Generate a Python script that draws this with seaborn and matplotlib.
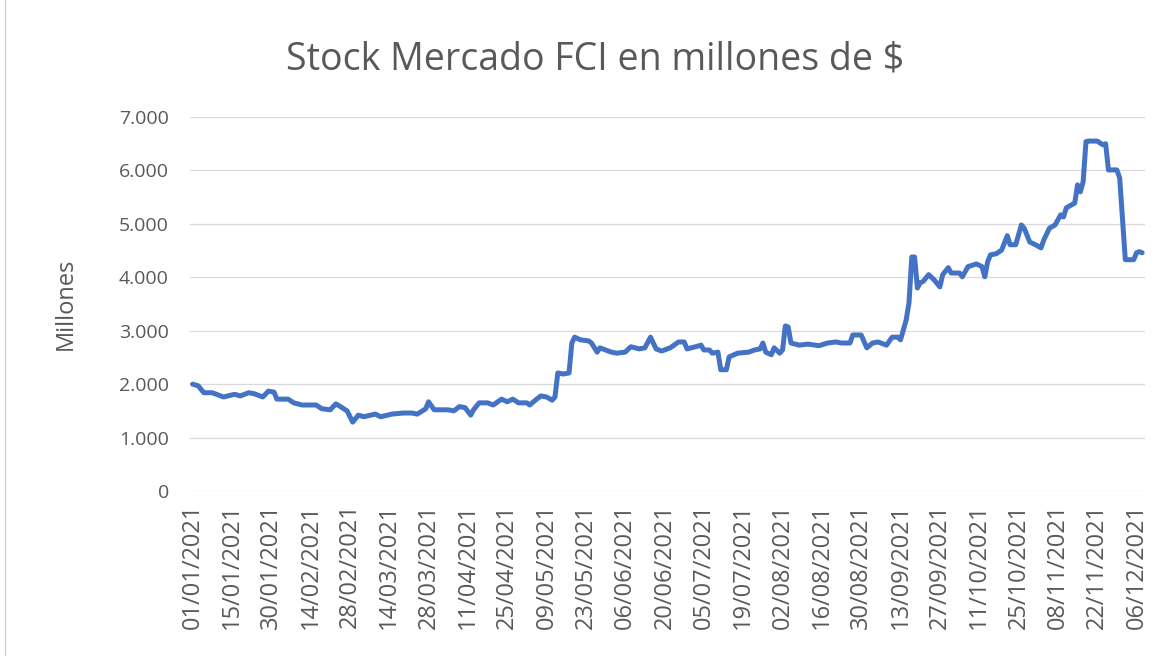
import matplotlib
matplotlib.use("Agg")
import matplotlib.pyplot as plt
import matplotlib.lines as mlines
import seaborn as sns
import pandas as pd
import numpy as np
from matplotlib.ticker import FuncFormatter

# Day index (category position) of each traced point and stock value (millones)
day_idx = [0, 2, 4, 7, 11, 15, 17, 20, 22, 25, 27, 29, 30, 34, 36, 39, 44, 46, 49, 51,
           52, 55, 57, 59, 61, 65, 67, 71, 75, 78, 80, 83, 84, 86, 91, 93, 95, 97, 99, 100,
           102, 105, 107, 110, 112, 114, 116, 119, 120, 122, 124, 126, 128, 129, 130, 132, 134, 135, 136, 138,
           141, 142, 144, 145, 148, 149, 151, 154, 156, 159, 161, 163, 165, 167, 170, 173, 175, 176, 179, 181,
           182, 184, 185, 187, 188, 190, 191, 194, 198, 200, 202, 203, 204, 206, 207, 209, 210, 211, 212, 213,
           216, 219, 223, 226, 229, 231, 234, 235, 238, 240, 242, 244, 247, 249, 251, 252, 254, 255, 256, 257,
           258, 259, 260, 262, 264, 266, 267, 269, 270, 273, 274, 276, 279, 281, 282, 283, 284, 286, 288, 290,
           291, 293, 295, 296, 298, 300, 302, 303, 305, 307, 309, 310, 311, 313, 314, 315, 316, 317, 318, 319,
           322, 324, 325, 326, 329, 330, 332, 335, 336, 337, 338]
stock = [2000, 1970, 1840, 1840, 1760, 1810, 1780, 1840, 1820, 1760, 1870, 1850, 1720, 1720, 1650, 1610, 1610, 1540, 1520, 1630,
         1600, 1500, 1290, 1420, 1390, 1440, 1390, 1440, 1460, 1460, 1440, 1540, 1670, 1520, 1520, 1500, 1580, 1560, 1420, 1520,
         1650, 1650, 1610, 1720, 1670, 1720, 1650, 1650, 1610, 1700, 1780, 1760, 1700, 1760, 2210, 2190, 2210, 2770, 2880, 2830,
         2810, 2770, 2600, 2680, 2620, 2600, 2580, 2600, 2700, 2660, 2680, 2880, 2660, 2620, 2680, 2790, 2790, 2660, 2700, 2730,
         2640, 2640, 2580, 2600, 2270, 2270, 2510, 2580, 2600, 2640, 2660, 2770, 2600, 2550, 2680, 2580, 2640, 3090, 3070, 2770,
         2730, 2750, 2720, 2770, 2790, 2770, 2770, 2920, 2920, 2680, 2770, 2790, 2730, 2880, 2880, 2830, 3200, 3520, 4380, 4380,
         3800, 3900, 3920, 4050, 3950, 3820, 4050, 4180, 4080, 4080, 4010, 4200, 4250, 4200, 4010, 4290, 4420, 4440, 4510, 4780,
         4610, 4610, 4980, 4920, 4660, 4610, 4550, 4700, 4920, 4980, 5170, 5130, 5300, 5360, 5390, 5730, 5600, 5790, 6540, 6550,
         6550, 6480, 6500, 6010, 6010, 5860, 4330, 4330, 4460, 4480, 4460]

tick_labels = ["01/01/2021", "15/01/2021", "30/01/2021", "14/02/2021", "28/02/2021", "14/03/2021",
               "28/03/2021", "11/04/2021", "25/04/2021", "09/05/2021", "23/05/2021", "06/06/2021",
               "20/06/2021", "05/07/2021", "19/07/2021", "02/08/2021", "16/08/2021", "30/08/2021",
               "13/09/2021", "27/09/2021", "11/10/2021", "25/10/2021", "08/11/2021", "22/11/2021",
               "06/12/2021"]
y_ticks = [0, 1000, 2000, 3000, 4000, 5000, 6000, 7000]

sns.set_theme(style="white")
plt.rcParams['font.family'] = ['Open Sans', 'DejaVu Sans']

df = pd.DataFrame({"idx": day_idx, "stock": stock})

fig = plt.figure(figsize=(11.57, 6.56), dpi=100)
ax = fig.add_axes([0.164, 0.2515, 0.8256, 0.5701])

TXT = "#595959"
for y in y_ticks:
    ax.axhline(y, color="#D9D9D9", lw=0.9, zorder=0)

sns.lineplot(data=df, x="idx", y="stock", ax=ax, color="#4472C4", linewidth=3.6, zorder=3)

ax.set_xlim(-1, 339)
ax.set_ylim(0, 7000)
ax.set_yticks(y_ticks)
ax.yaxis.set_major_formatter(FuncFormatter(lambda v, p: f"{v:,.0f}".replace(",", ".")))
ax.set_xticks(np.arange(len(tick_labels)) * 14)
ax.set_xticklabels(tick_labels, rotation=90)
ax.tick_params(axis="both", length=0, colors=TXT)
ax.tick_params(axis="y", pad=15, labelsize=14)
ax.tick_params(axis="x", pad=9, labelsize=17)
for s in ax.spines.values():
    s.set_visible(False)
ax.set_xlabel("")
ax.set_ylabel("Millones", color=TXT, fontsize=17)
ax.yaxis.set_label_coords(-0.117, 0.5)

fig.text(0.514, 0.91, "Stock Mercado FCI en millones de $", ha="center", va="center",
         fontsize=27, color=TXT)

fig.add_artist(mlines.Line2D([5 / 1157, 5 / 1157], [0, 1], color="#D0D0D0", lw=1))

fig.savefig("out.png", dpi=100, facecolor="white")
